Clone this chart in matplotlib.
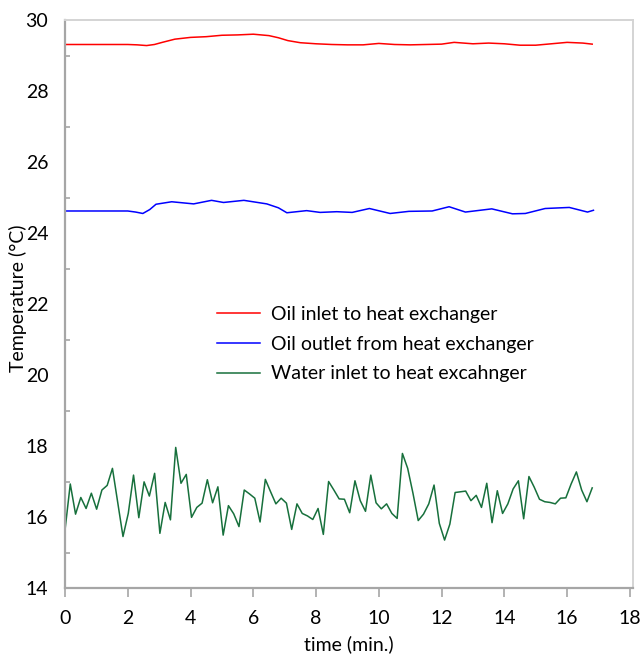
import numpy as np
import matplotlib
matplotlib.use("Agg")
from matplotlib import pyplot as plt
from matplotlib.ticker import MultipleLocator

plt.rcParams['font.family'] = ['Lato', 'DejaVu Sans']

# water inlet, sampled every ~10 s
water = [15.63, 16.93, 16.08, 16.55, 16.24, 16.67, 16.22, 16.76, 16.89, 17.37,
         16.41, 15.45, 16.10, 17.18, 15.98, 16.99, 16.59, 17.23, 15.54, 16.41,
         15.92, 17.96, 16.95, 17.20, 15.99, 16.27, 16.39, 17.05, 16.40, 16.85,
         15.49, 16.32, 16.09, 15.73, 16.76, 16.65, 16.53,
         15.86, 17.06, 16.71, 16.37, 16.53, 16.39, 15.65, 16.37, 16.10, 16.03,
         15.93, 16.24, 15.51, 17.00, 16.76, 16.51, 16.50, 16.12, 17.02, 16.46,
         16.16, 17.18, 16.40, 16.23, 16.37, 16.10, 15.96, 17.79, 17.37, 16.67,
         15.90, 16.08, 16.37, 16.90, 15.82, 15.35,
         15.80, 16.69, 16.71, 16.73, 16.46, 16.61, 16.27, 16.95, 15.84, 16.74,
         16.10, 16.37, 16.79, 17.02, 15.95, 17.14, 16.84, 16.50, 16.43, 16.41,
         16.37, 16.53, 16.54, 16.93, 17.27, 16.76, 16.43, 16.82]
t_water = np.arange(len(water)) * 0.168

t_oil_in = [0, 1.0, 2.0, 2.3, 2.6, 2.85, 3.1, 3.5, 4.0, 4.5, 5.0, 5.5, 6.0, 6.5,
            6.8, 7.1, 7.5, 8.0, 8.5, 9.0, 9.5, 10.0, 10.5, 11.0, 11.5, 12.0,
            12.4, 13.0, 13.5, 14.0, 14.5, 15.0, 15.5, 16.0, 16.5, 16.8]
oil_in = [29.31, 29.31, 29.31, 29.30, 29.28, 29.31, 29.37, 29.46, 29.51, 29.53,
          29.57, 29.58, 29.60, 29.56, 29.50, 29.42, 29.36, 29.33, 29.31, 29.30,
          29.30, 29.34, 29.31, 29.30, 29.31, 29.32, 29.37, 29.33, 29.35, 29.33,
          29.29, 29.29, 29.33, 29.37, 29.35, 29.32]

t_oil_out = [0, 1.0, 2.0, 2.25, 2.48, 2.7, 2.9, 3.4, 4.1, 4.67, 5.05, 5.7, 6.43,
             6.8, 7.07, 7.7, 8.13, 8.66, 9.15, 9.7, 10.36, 10.96, 11.7, 12.24,
             12.76, 13.6, 14.26, 14.67, 15.3, 16.07, 16.65, 16.84]
oil_out = [24.62, 24.62, 24.62, 24.59, 24.55, 24.66, 24.81, 24.88, 24.82, 24.92,
           24.86, 24.92, 24.82, 24.71, 24.57, 24.63, 24.58, 24.60, 24.58, 24.69,
           24.55, 24.61, 24.62, 24.74, 24.59, 24.68, 24.54, 24.55, 24.69, 24.72,
           24.59, 24.64]

W, H = 641, 656
fig = plt.figure(figsize=(W / 100, H / 100), dpi=100)
ax = fig.add_axes([65 / W, 1 - 588 / H, (633 - 65) / W, (588 - 20) / H])

ax.plot(t_oil_in, oil_in, color='#ff0000', lw=1.1, label='Oil inlet to heat exchanger')
ax.plot(t_oil_out, oil_out, color='#0000ff', lw=1.1, label='Oil outlet from heat exchanger')
ax.plot(t_water, water, color='#17703c', lw=1.1, label='Water inlet to heat excahnger')

ax.set_xlim(0, 18.1)
ax.set_ylim(14, 30)
ax.xaxis.set_major_locator(MultipleLocator(2))
ax.yaxis.set_major_locator(MultipleLocator(2))
ax.yaxis.set_minor_locator(MultipleLocator(1))
ax.tick_params(axis='x', which='major', direction='out', length=6.5, width=1.2,
               color='#a6a6a6', labelsize=14, pad=9)
ax.tick_params(axis='y', which='major', length=0, labelsize=14, pad=12)
ax.tick_params(axis='y', which='minor', direction='in', length=3.8, width=1.2,
               color='#a6a6a6')

for s in ['left', 'bottom']:
    ax.spines[s].set_color('#a6a6a6')
    ax.spines[s].set_linewidth(1.6)
for s in ['top', 'right']:
    ax.spines[s].set_color('#d4d4d4')
    ax.spines[s].set_linewidth(1.4)

ax.set_xlabel('time (min.)', fontsize=14)
ax.set_ylabel('Temperature (°C)', fontsize=14)
ax.xaxis.set_label_coords(0.5, -0.083)
ax.yaxis.set_label_coords(-0.067, 0.51)

ax.legend(loc='upper left', bbox_to_anchor=(0.268, 0.497), frameon=False,
          fontsize=14, handlelength=2.2, handletextpad=0.55, labelspacing=0.66,
          borderpad=0, borderaxespad=0)

fig.savefig('out.png', dpi=100)
